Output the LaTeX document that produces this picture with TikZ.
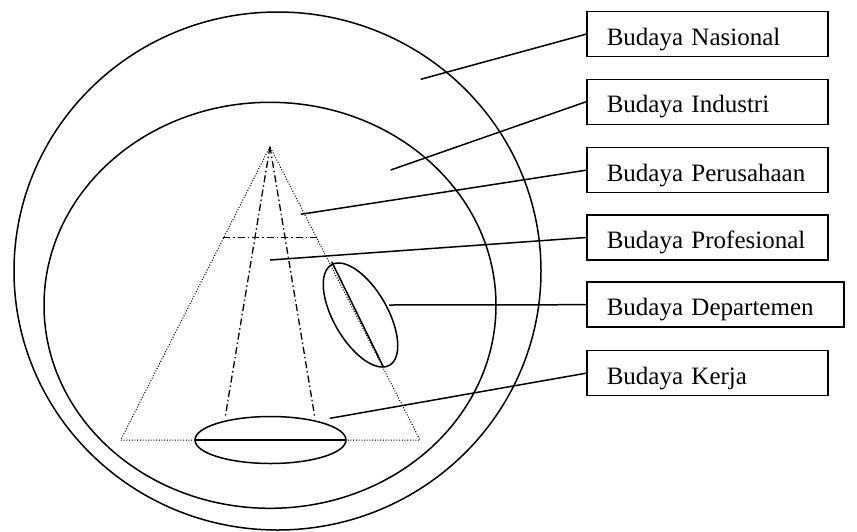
\documentclass[tikz,border=0pt]{standalone}
\usepackage{fontspec}
\setmainfont{Liberation Serif}
\begin{document}
\begin{tikzpicture}[x=1pt,y=-1pt,
  ring/.style={line width=1.5pt},
  leader/.style={line width=1.5pt},
  tipdots/.style={line width=1pt, dash pattern=on 1pt off 1.7pt},
  dashdot/.style={line width=1.3pt, dash pattern=on 7pt off 3pt on 1.5pt off 3pt},
  labelbox/.style={draw, line width=1.5pt, fill=white, anchor=west,
    minimum height=45pt, inner xsep=20pt, inner ysep=0pt,
    text height=21.6pt, text depth=0pt, align=left,
    font=\fontsize{25pt}{26pt}\selectfont, text width=#1},
  labelbox/.default=201pt]
\useasboundingbox (0,0) rectangle (857,531);

% nested culture levels
\draw[ring, fill=white] (277.5,271) ellipse [x radius=263.5, y radius=259];
\draw[ring] (270,305.3) ellipse [x radius=226, y radius=203];

% organisation triangle
\coordinate (apex) at (270,146.7);
\coordinate (bl) at (120.7,440);
\coordinate (br) at (420,440);
\draw[tipdots] (apex) -- (bl) -- (br) -- cycle;
\draw[dashdot] (apex) -- (225,418.3);
\draw[dashdot] (apex) -- (315,418.3);
\draw[dashdot] (223.3,237.3) -- (316.7,237.3);

% work group at the base
\draw[ring] (270.5,440) ellipse [x radius=75.5, y radius=23.5];
\draw[line width=1.7pt] (195,440) -- (346,440);

% department on the right flank
\draw[ring, shift={(360.5,315)}, rotate=-60] (0,0) ellipse [x radius=58, y radius=27];
\draw[ring] (331.7,261.7) -- (383.3,366.7);

% label boxes
\node[labelbox] (n1) at (586,34.2) {Budaya Nasional};
\node[labelbox] (n2) at (586,101.8) {Budaya Industri};
\node[labelbox] (n3) at (586,170.2) {Budaya Perusahaan};
\node[labelbox] (n4) at (586,237.5) {Budaya Profesional};
\node[labelbox=217pt] (n5) at (586,304.7) {Budaya Departemen};
\node[labelbox] (n6) at (586,373.2) {Budaya Kerja};

% leader start points
\coordinate (c1) at (420.7,79.3);
\coordinate (c2) at (390.7,170);
\coordinate (c3) at (300.7,214.3);
\coordinate (c4) at (270,260);
\coordinate (c5) at (389,305);
\coordinate (c6) at (330,418.3);

\draw[leader] (c1) -- (n1.west);
\draw[leader] (c2) -- (n2.west);
\draw[leader] (c3) -- (n3.west);
\draw[leader] (c4) -- (n4.west);
\draw[leader] (c5) -- (n5.west);
\draw[leader] (c6) -- (n6.west);
\end{tikzpicture}
\end{document}
